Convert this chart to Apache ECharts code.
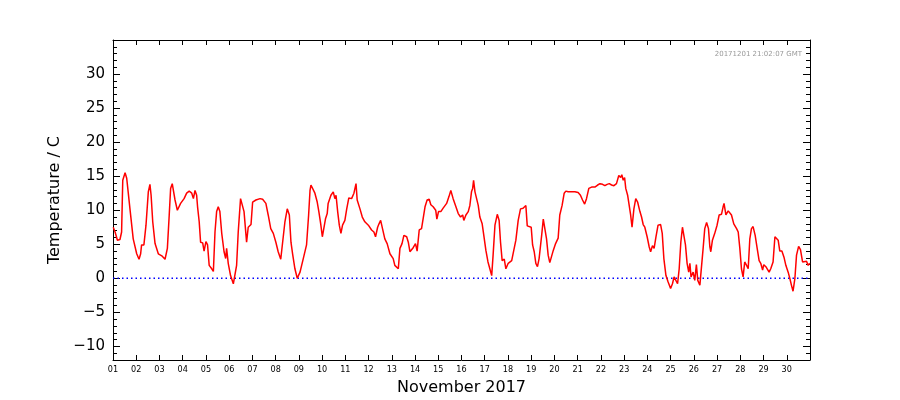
<!DOCTYPE html>
<html>
<head>
<meta charset="utf-8">
<script src="https://cdn.jsdelivr.net/npm/echarts@6/dist/echarts.min.js"></script>
<style>
  html, body { margin: 0; padding: 0; background: #fff; }
  #chart { width: 900px; height: 400px; }
</style>
</head>
<body>
<div id="chart"></div>
<script>
// day of month (1.0 = 1 Nov 00:00) and temperature in C
var days = [
  1.01, 1.09, 1.19, 1.30, 1.37, 1.42, 1.52, 1.59, 1.73, 1.87, 2.02, 2.12, 2.19, 2.23, 2.33, 2.42,
  2.52, 2.59, 2.64, 2.71, 2.81, 2.95, 3.10, 3.24, 3.34, 3.42, 3.48, 3.55, 3.67, 3.77, 3.91, 4.06,
  4.17, 4.28, 4.39, 4.46, 4.53, 4.60, 4.64, 4.71, 4.77, 4.86, 4.92, 5.00, 5.07, 5.14,
  5.25, 5.32, 5.39, 5.46, 5.53, 5.60, 5.68, 5.78, 5.85, 5.89, 5.96, 6.06, 6.18, 6.26, 6.32, 6.39,
  6.49, 6.55, 6.64, 6.75, 6.82, 6.94, 7.01, 7.15, 7.33, 7.44, 7.58, 7.68, 7.79, 7.90, 8.01, 8.11,
  8.22, 8.30, 8.40, 8.50, 8.59, 8.66, 8.73, 8.83, 8.93, 9.05, 9.19, 9.33, 9.42, 9.48,
  9.52, 9.59, 9.69, 9.79, 9.86, 9.94, 10.01, 10.08, 10.15, 10.22, 10.26, 10.34, 10.38, 10.48, 10.55, 10.60,
  10.67, 10.74, 10.81, 10.88, 10.98, 11.06, 11.15, 11.27, 11.37, 11.46, 11.51, 11.63, 11.73, 11.84, 11.99, 12.13,
  12.23, 12.30, 12.39, 12.45, 12.52, 12.60, 12.70, 12.80, 12.92, 12.99, 13.06, 13.13, 13.21, 13.28, 13.35, 13.44,
  13.52, 13.64, 13.71, 13.78,
  13.82, 13.92, 14.02, 14.09, 14.18, 14.28, 14.43, 14.52, 14.61, 14.68, 14.78, 14.89, 14.94, 15.01, 15.11, 15.21,
  15.36, 15.46, 15.54, 15.64, 15.76, 15.86, 15.96, 16.05, 16.10, 16.19, 16.29, 16.36, 16.43, 16.48, 16.52, 16.58,
  16.65, 16.72, 16.79, 16.89, 16.96, 17.05, 17.14, 17.22, 17.30, 17.36, 17.44, 17.54, 17.62, 17.68, 17.75, 17.84,
  17.91, 18.01, 18.08,
  18.16, 18.25, 18.34, 18.44, 18.54, 18.65, 18.73, 18.77, 18.83, 18.91, 19.00, 19.06, 19.13, 19.20, 19.27, 19.34,
  19.45, 19.52, 19.60, 19.66, 19.73, 19.80, 19.88, 19.95, 20.05, 20.16, 20.23, 20.33, 20.42, 20.49, 20.59, 20.74,
  20.88, 21.02, 21.12, 21.21, 21.30, 21.38, 21.48, 21.60, 21.74, 21.86, 21.96, 22.07, 22.17, 22.27, 22.36,
  22.46, 22.56, 22.67, 22.77, 22.85, 22.90, 22.96, 23.02, 23.07, 23.15, 23.20, 23.28, 23.34, 23.42, 23.50, 23.58,
  23.68, 23.75, 23.82, 23.89, 23.99, 24.08, 24.14, 24.22, 24.29, 24.37, 24.46, 24.57, 24.64, 24.71, 24.80, 24.89,
  25.00, 25.08, 25.15, 25.23, 25.30, 25.37, 25.44, 25.51, 25.57, 25.64, 25.71, 25.78, 25.83, 25.88, 25.97, 26.04,
  26.11, 26.17, 26.26, 26.34, 26.40, 26.47, 26.55, 26.63, 26.69,
  26.73, 26.80, 26.90, 27.00, 27.09, 27.19, 27.26, 27.30, 27.38, 27.48, 27.55, 27.62, 27.72, 27.84, 27.91, 27.98,
  28.05, 28.12, 28.19, 28.27, 28.34, 28.41, 28.48, 28.55, 28.64, 28.74, 28.81, 28.88, 28.96, 29.01, 29.10, 29.17,
  29.24, 29.31, 29.41, 29.49, 29.56, 29.63, 29.70, 29.79, 29.88, 29.96, 30.06, 30.13, 30.20, 30.27, 30.35, 30.42,
  30.51, 30.59, 30.68, 30.76, 30.85, 30.92, 30.99
];
var temps = [
  7.5, 6.8, 5.6, 5.7, 6.8, 14.4, 15.5, 14.7, 10.2, 5.8, 3.6, 2.8, 3.6, 4.9, 4.9, 7.8,
  12.7, 13.8, 12.2, 8.3, 5.1, 3.6, 3.3, 2.8, 4.4, 9.3, 13.2, 13.9, 11.5, 10.0, 11.0, 11.7,
  12.5, 12.8, 12.5, 11.7, 12.9, 12.2, 10.5, 8.3, 5.3, 5.2, 4.0, 5.4, 4.9, 1.9,
  1.4, 1.0, 6.8, 9.8, 10.5, 9.8, 6.6, 3.9, 2.9, 4.4, 2.2, 0.4, -0.8, -1.0, 1.9, 6.8,
  11.7, 11.8, 9.8, 5.3, 7.5, 7.9, 11.2, 11.5, 11.7, 11.6, 11.0, 9.3, 7.3, 6.6, 5.3, 3.9,
  2.8, 2.7, 8.3, 10.2, 9.3, 5.3, 3.6, 1.4, 0.0, 0.9, 2.9, 4.9, 9.3, 12.9,
  13.7, 13.9, 12.5, 11.2, 9.8, 8.0, 6.1, 6.1, 8.8, 9.5, 11.0, 11.2, 12.2, 12.7, 11.7, 12.2,
  9.8, 7.8, 6.6, 7.8, 8.5, 10.2, 11.8, 11.7, 12.5, 13.9, 11.5, 10.2, 9.0, 8.3, 7.8, 7.1,
  6.8, 6.1, 7.5, 8.0, 8.5, 7.3, 5.8, 5.1, 3.6, 3.6, 2.9, 1.9, 1.7, 1.4, 4.4, 5.1,
  6.3, 6.1, 5.3, 3.9,
  4.1, 4.5, 5.1, 4.0, 7.1, 7.3, 10.5, 11.5, 11.6, 10.8, 10.5, 10.0, 8.7, 9.8, 9.8, 10.3,
  11.0, 12.0, 12.9, 11.7, 10.5, 9.5, 9.0, 9.3, 8.5, 9.3, 9.8, 10.7, 12.7, 13.2, 14.4, 12.7,
  11.7, 10.7, 9.0, 8.0, 6.3, 4.1, 2.4, 1.4, 0.4, 3.4, 7.8, 9.4, 8.5, 5.3, 2.6, 2.8,
  1.4, 2.2, 2.4,
  2.6, 4.1, 5.6, 8.5, 10.2, 10.3, 10.5, 10.7, 7.7, 7.6, 7.5, 4.9, 3.9, 2.2, 1.7, 2.9,
  6.3, 8.7, 8.5, 5.8, 3.4, 2.3, 2.4, 4.1, 5.1, 5.9, 9.3, 10.7, 12.5, 12.8, 12.7, 12.7,
  12.7, 12.6, 12.2, 11.5, 10.9, 11.7, 13.2, 13.4, 13.4, 13.7, 13.9, 13.8, 13.6, 13.8, 13.9,
  13.7, 13.6, 13.9, 15.1, 14.8, 15.2, 14.4, 14.8, 13.2, 12.2, 12.1, 9.3, 7.5, 10.2, 11.7, 11.2,
  9.8, 9.0, 7.9, 7.5, 6.1, 4.6, 3.9, 4.8, 4.4, 6.1, 7.8, 7.9, 6.6, 2.9, 0.4, -0.5,
  -1.5, -0.8, 0.2, 0.1, -0.8, 1.4, 5.3, 7.5, 7.3, 4.9, 2.2, 0.9, 2.2, 0.2, 0.9, -0.3,
  2.0, -0.3, -1.0, -0.8, 4.4, 7.3, 8.2, 7.3, 4.6,
  3.9, 5.6, 6.6, 7.8, 9.3, 9.4, 10.5, 11.0, 9.3, 9.9, 10.0, 9.3, 8.0, 7.3, 6.8, 4.4,
  1.4, 0.2, 2.4, 1.9, 1.4, 5.8, 7.3, 7.6, 6.3, 4.1, 2.6, 2.2, 1.2, 2.0, 1.7, 1.9,
  0.9, 1.4, 2.4, 6.1, 6.0, 5.6, 4.0, 4.0, 3.1, 1.9, 0.9, 0.0, -1.0, -1.9, 0.0, 3.4,
  4.7, 4.2, 2.4, 2.2, 2.5, 1.9, 2.2
];
var zeroDays = [1, 31];
var zeroTemps = [0, 0];

var yMin = -12, yMax = 35;
var xMin = 1, xMax = 31;

var myChart = echarts.init(document.getElementById('chart'));

var tempData = [];
for (var i = 0; i < days.length; i++) {
    tempData.push([days[i], temps[i]]);
}
var zeroData = [];
for (var j = 0; j < zeroDays.length; j++) {
    zeroData.push([zeroDays[j], zeroTemps[j]]);
}

function pad2(v) {
    return (v < 10 ? '0' : '') + v;
}

var frame = { show: true, onZero: false, lineStyle: { color: '#000', width: 1 } };

var option = {
    animation: false,
    backgroundColor: '#fff',
    textStyle: { fontFamily: 'DejaVu Sans' },
    grid: { left: 113, right: 90, top: 40, bottom: 40, outerBoundsMode: 'none', containLabel: false },
    graphic: [{
        type: 'text',
        right: 98,
        top: 51,
        style: { text: '20171201 21:02:07 GMT', fill: '#999', font: '7px DejaVu Sans' }
    }],
    xAxis: [{
        type: 'value',
        min: xMin, max: xMax, interval: 1,
        position: 'bottom',
        name: 'November 2017',
        nameLocation: 'middle',
        nameGap: 20,
        nameTextStyle: { color: '#000', fontSize: 16, fontFamily: 'DejaVu Sans' },
        axisLine: frame,
        axisTick: { inside: true, length: 5, lineStyle: { color: '#000' } },
        axisLabel: {
            color: '#000', fontSize: 9, fontFamily: 'DejaVu Sans Condensed', margin: 5,
            formatter: function (v) { return v < xMax ? pad2(v) : ''; }
        },
        splitLine: { show: false }
    }, {
        type: 'value',
        min: xMin, max: xMax, interval: 1,
        position: 'top',
        axisLine: frame,
        axisTick: { inside: true, length: 5, lineStyle: { color: '#000' } },
        axisLabel: { show: false },
        splitLine: { show: false }
    }],
    yAxis: [{
        type: 'value',
        min: yMin, max: yMax, splitNumber: 10,
        position: 'left',
        name: 'Temperature / C',
        nameLocation: 'middle',
        nameGap: 44,
        nameTextStyle: { color: '#000', fontSize: 16, fontFamily: 'DejaVu Sans' },
        axisLine: frame,
        axisTick: { inside: true, length: 7, lineStyle: { color: '#000' } },
        minorTick: { show: true, splitNumber: 5, length: 4, lineStyle: { color: '#000' } },
        axisLabel: {
            color: '#000', fontSize: 15, fontFamily: 'DejaVu Sans', margin: 8,
            showMinLabel: false, showMaxLabel: false,
            formatter: function (v) { return v < 0 ? '\u2212' + Math.abs(v) : String(v); }
        },
        splitLine: { show: false }
    }, {
        type: 'value',
        min: yMin, max: yMax, splitNumber: 10,
        position: 'right',
        axisLine: frame,
        axisTick: { inside: true, length: 7, lineStyle: { color: '#000' } },
        minorTick: { show: true, splitNumber: 5, length: 4, lineStyle: { color: '#000' } },
        axisLabel: { show: false },
        splitLine: { show: false }
    }],
    series: [{
        name: 'zero',
        type: 'line',
        data: zeroData,
        showSymbol: false,
        silent: true,
        lineStyle: { color: '#0000ff', width: 1.5, type: [1.5, 3] }
    }, {
        name: 'temperature',
        type: 'line',
        data: tempData,
        showSymbol: false,
        lineStyle: { color: '#ff0000', width: 1.5 }
    }]
};
myChart.setOption(option);
</script>
</body>
</html>
